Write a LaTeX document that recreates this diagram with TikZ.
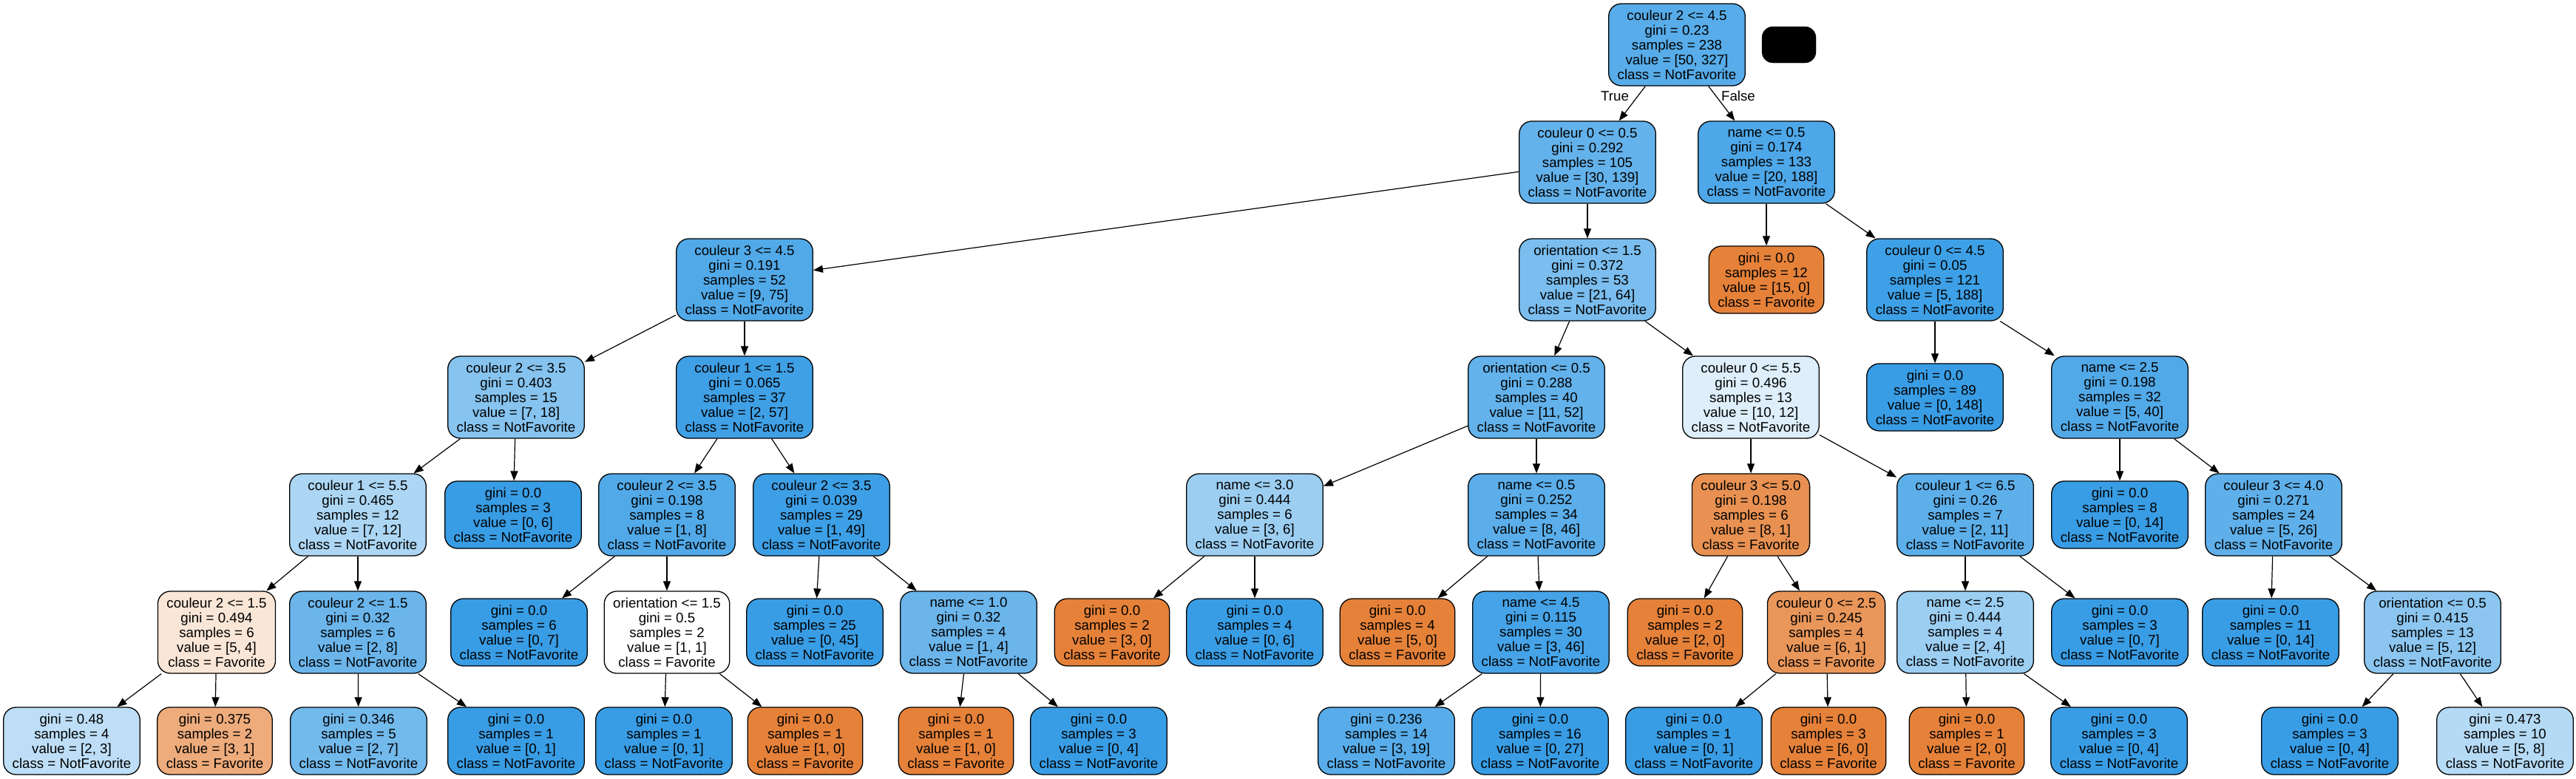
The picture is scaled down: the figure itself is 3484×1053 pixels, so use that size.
\documentclass[tikz,border=0pt]{standalone}
\usepackage{fontspec}
\setmainfont{Liberation Sans}
\usetikzlibrary{arrows.meta}
\definecolor{fav}{HTML}{E58139}
\definecolor{nf}{HTML}{399DE5}
\tikzset{
  tn/.style={draw=black, line width=1.3pt, rounded corners=17pt, align=center,
    inner xsep=12pt, inner ysep=0pt, font=\fontsize{18.7}{20}\selectfont},
  five/.style={tn, minimum height=111pt},
  four/.style={tn, minimum height=91pt},
  edge/.style={-{Triangle[length=13pt,width=10pt]}, line width=1.2pt, draw=black},
  elabel/.style={font=\fontsize{18.7}{20}\selectfont, inner sep=0pt}
}
\begin{document}
\begin{tikzpicture}[x=1pt,y=1pt]
\fill[white] (0,0) rectangle (3484,-1053);
\useasboundingbox (0,0) rectangle (3484,-1053);
% level 0
\node[five,fill=nf!84.7!white] (l0) at (2268,-60.5) {couleur 2 <= 4.5\\gini = 0.23\\samples = 238\\value = [50, 327]\\class = NotFavorite};
\node[draw=black, fill=black, rounded corners=15pt, minimum width=73pt, minimum height=49pt, inner sep=0pt] (legend) at (2419.5,-60.5) {};
% level 1
\node[five,fill=nf!78.4!white] (l1a) at (2147,-219.5) {couleur 0 <= 0.5\\gini = 0.292\\samples = 105\\value = [30, 139]\\class = NotFavorite};
\node[five,fill=nf!89.4!white] (l1b) at (2389,-219.5) {name <= 0.5\\gini = 0.174\\samples = 133\\value = [20, 188]\\class = NotFavorite};
% level 2
\node[five,fill=nf!88!white] (l2a) at (1007,-378.5) {couleur 3 <= 4.5\\gini = 0.191\\samples = 52\\value = [9, 75]\\class = NotFavorite};
\node[five,fill=nf!67.2!white] (l2b) at (2147,-378.5) {orientation <= 1.5\\gini = 0.372\\samples = 53\\value = [21, 64]\\class = NotFavorite};
\node[four,fill=fav] (l2c) at (2389,-378.5) {gini = 0.0\\samples = 12\\value = [15, 0]\\class = Favorite};
\node[five,fill=nf!97.3!white] (l2d) at (2617,-378.5) {couleur 0 <= 4.5\\gini = 0.05\\samples = 121\\value = [5, 188]\\class = NotFavorite};
% level 3
\node[five,fill=nf!61.1!white] (l3a) at (698,-537.5) {couleur 2 <= 3.5\\gini = 0.403\\samples = 15\\value = [7, 18]\\class = NotFavorite};
\node[five,fill=nf!96.5!white] (l3b) at (1007,-537.5) {couleur 1 <= 1.5\\gini = 0.065\\samples = 37\\value = [2, 57]\\class = NotFavorite};
\node[five,fill=nf!78.8!white] (l3c) at (2078,-537.5) {orientation <= 0.5\\gini = 0.288\\samples = 40\\value = [11, 52]\\class = NotFavorite};
\node[five,fill=nf!16.7!white] (l3d) at (2368,-537.5) {couleur 0 <= 5.5\\gini = 0.496\\samples = 13\\value = [10, 12]\\class = NotFavorite};
\node[four,fill=nf] (l3e) at (2617,-537.5) {gini = 0.0\\samples = 89\\value = [0, 148]\\class = NotFavorite};
\node[five,fill=nf!87.5!white] (l3f) at (2867,-537.5) {name <= 2.5\\gini = 0.198\\samples = 32\\value = [5, 40]\\class = NotFavorite};
% level 4
\node[five,fill=nf!41.7!white] (l4a) at (484,-696.5) {couleur 1 <= 5.5\\gini = 0.465\\samples = 12\\value = [7, 12]\\class = NotFavorite};
\node[four,fill=nf] (l4b) at (694,-696.5) {gini = 0.0\\samples = 3\\value = [0, 6]\\class = NotFavorite};
\node[five,fill=nf!87.5!white] (l4c) at (902,-696.5) {couleur 2 <= 3.5\\gini = 0.198\\samples = 8\\value = [1, 8]\\class = NotFavorite};
\node[five,fill=nf!98!white] (l4d) at (1111,-696.5) {couleur 2 <= 3.5\\gini = 0.039\\samples = 29\\value = [1, 49]\\class = NotFavorite};
\node[five,fill=nf!50!white] (l4e) at (1697,-696.5) {name <= 3.0\\gini = 0.444\\samples = 6\\value = [3, 6]\\class = NotFavorite};
\node[five,fill=nf!82.6!white] (l4f) at (2078,-696.5) {name <= 0.5\\gini = 0.252\\samples = 34\\value = [8, 46]\\class = NotFavorite};
\node[five,fill=fav!87.5!white] (l4g) at (2368,-696.5) {couleur 3 <= 5.0\\gini = 0.198\\samples = 6\\value = [8, 1]\\class = Favorite};
\node[five,fill=nf!81.8!white] (l4h) at (2658,-696.5) {couleur 1 <= 6.5\\gini = 0.26\\samples = 7\\value = [2, 11]\\class = NotFavorite};
\node[four,fill=nf] (l4i) at (2867,-696.5) {gini = 0.0\\samples = 8\\value = [0, 14]\\class = NotFavorite};
\node[five,fill=nf!80.8!white] (l4j) at (3075,-696.5) {couleur 3 <= 4.0\\gini = 0.271\\samples = 24\\value = [5, 26]\\class = NotFavorite};
% level 5
\node[five,fill=fav!20!white] (l5a) at (293,-855.5) {couleur 2 <= 1.5\\gini = 0.494\\samples = 6\\value = [5, 4]\\class = Favorite};
\node[five,fill=nf!75!white] (l5b) at (484,-855.5) {couleur 2 <= 1.5\\gini = 0.32\\samples = 6\\value = [2, 8]\\class = NotFavorite};
\node[four,fill=nf] (l5c) at (702,-855.5) {gini = 0.0\\samples = 6\\value = [0, 7]\\class = NotFavorite};
\node[five,fill=white] (l5d) at (902,-855.5) {orientation <= 1.5\\gini = 0.5\\samples = 2\\value = [1, 1]\\class = Favorite};
\node[four,fill=nf] (l5e) at (1102,-855.5) {gini = 0.0\\samples = 25\\value = [0, 45]\\class = NotFavorite};
\node[five,fill=nf!75!white] (l5f) at (1310,-855.5) {name <= 1.0\\gini = 0.32\\samples = 4\\value = [1, 4]\\class = NotFavorite};
\node[four,fill=fav] (l5g) at (1504,-855.5) {gini = 0.0\\samples = 2\\value = [3, 0]\\class = Favorite};
\node[four,fill=nf] (l5h) at (1697,-855.5) {gini = 0.0\\samples = 4\\value = [0, 6]\\class = NotFavorite};
\node[four,fill=fav] (l5i) at (1890,-855.5) {gini = 0.0\\samples = 4\\value = [5, 0]\\class = Favorite};
\node[five,fill=nf!93.5!white] (l5j) at (2084,-855.5) {name <= 4.5\\gini = 0.115\\samples = 30\\value = [3, 46]\\class = NotFavorite};
\node[four,fill=fav] (l5k) at (2279,-855.5) {gini = 0.0\\samples = 2\\value = [2, 0]\\class = Favorite};
\node[five,fill=fav!83.3!white] (l5l) at (2470,-855.5) {couleur 0 <= 2.5\\gini = 0.245\\samples = 4\\value = [6, 1]\\class = Favorite};
\node[five,fill=nf!50!white] (l5m) at (2658,-855.5) {name <= 2.5\\gini = 0.444\\samples = 4\\value = [2, 4]\\class = NotFavorite};
\node[four,fill=nf] (l5n) at (2867,-855.5) {gini = 0.0\\samples = 3\\value = [0, 7]\\class = NotFavorite};
\node[four,fill=nf] (l5o) at (3071,-855.5) {gini = 0.0\\samples = 11\\value = [0, 14]\\class = NotFavorite};
\node[five,fill=nf!58.3!white] (l5p) at (3290,-855.5) {orientation <= 0.5\\gini = 0.415\\samples = 13\\value = [5, 12]\\class = NotFavorite};
% level 6
\node[four,fill=nf!33.3!white] (l6a) at (97,-1002.5) {gini = 0.48\\samples = 4\\value = [2, 3]\\class = NotFavorite};
\node[four,fill=fav!66.7!white] (l6b) at (290.5,-1002.5) {gini = 0.375\\samples = 2\\value = [3, 1]\\class = Favorite};
\node[four,fill=nf!71.4!white] (l6c) at (485,-1002.5) {gini = 0.346\\samples = 5\\value = [2, 7]\\class = NotFavorite};
\node[four,fill=nf] (l6d) at (698,-1002.5) {gini = 0.0\\samples = 1\\value = [0, 1]\\class = NotFavorite};
\node[four,fill=nf] (l6e) at (898,-1002.5) {gini = 0.0\\samples = 1\\value = [0, 1]\\class = NotFavorite};
\node[four,fill=fav] (l6f) at (1089,-1002.5) {gini = 0.0\\samples = 1\\value = [1, 0]\\class = Favorite};
\node[four,fill=fav] (l6g) at (1293,-1002.5) {gini = 0.0\\samples = 1\\value = [1, 0]\\class = Favorite};
\node[four,fill=nf] (l6h) at (1486,-1002.5) {gini = 0.0\\samples = 3\\value = [0, 4]\\class = NotFavorite};
\node[four,fill=nf!84.2!white] (l6i) at (1875,-1002.5) {gini = 0.236\\samples = 14\\value = [3, 19]\\class = NotFavorite};
\node[four,fill=nf] (l6j) at (2083,-1002.5) {gini = 0.0\\samples = 16\\value = [0, 27]\\class = NotFavorite};
\node[four,fill=nf] (l6k) at (2291,-1002.5) {gini = 0.0\\samples = 1\\value = [0, 1]\\class = NotFavorite};
\node[four,fill=fav] (l6l) at (2473,-1002.5) {gini = 0.0\\samples = 3\\value = [6, 0]\\class = Favorite};
\node[four,fill=fav] (l6m) at (2660,-1002.5) {gini = 0.0\\samples = 1\\value = [2, 0]\\class = Favorite};
\node[four,fill=nf] (l6n) at (2866,-1002.5) {gini = 0.0\\samples = 3\\value = [0, 4]\\class = NotFavorite};
\node[four,fill=nf] (l6o) at (3151,-1002.5) {gini = 0.0\\samples = 3\\value = [0, 4]\\class = NotFavorite};
\node[four,fill=nf!37.5!white] (l6p) at (3388,-1002.5) {gini = 0.473\\samples = 10\\value = [5, 8]\\class = NotFavorite};
% edge labels
\node[elabel] (tlabel) at (2184,-130) {True};
\node[elabel] (flabel) at (2351,-130) {False};
% edges
\draw[edge] (l0) -- (l1a);
\draw[edge] (l0) -- (l1b);
\draw[edge] (l1a) -- (l2a);
\draw[edge] (l1a) -- (l2b);
\draw[edge] (l1b) -- (l2c);
\draw[edge] (l1b) -- (l2d);
\draw[edge] (l2a) -- (l3a);
\draw[edge] (l2a) -- (l3b);
\draw[edge] (l2b) -- (l3c);
\draw[edge] (l2b) -- (l3d);
\draw[edge] (l2d) -- (l3e);
\draw[edge] (l2d) -- (l3f);
\draw[edge] (l3a) -- (l4a);
\draw[edge] (l3a) -- (l4b);
\draw[edge] (l3b) -- (l4c);
\draw[edge] (l3b) -- (l4d);
\draw[edge] (l3c) -- (l4e);
\draw[edge] (l3c) -- (l4f);
\draw[edge] (l3d) -- (l4g);
\draw[edge] (l3d) -- (l4h);
\draw[edge] (l3f) -- (l4i);
\draw[edge] (l3f) -- (l4j);
\draw[edge] (l4a) -- (l5a);
\draw[edge] (l4a) -- (l5b);
\draw[edge] (l4c) -- (l5c);
\draw[edge] (l4c) -- (l5d);
\draw[edge] (l4d) -- (l5e);
\draw[edge] (l4d) -- (l5f);
\draw[edge] (l4e) -- (l5g);
\draw[edge] (l4e) -- (l5h);
\draw[edge] (l4f) -- (l5i);
\draw[edge] (l4f) -- (l5j);
\draw[edge] (l4g) -- (l5k);
\draw[edge] (l4g) -- (l5l);
\draw[edge] (l4h) -- (l5m);
\draw[edge] (l4h) -- (l5n);
\draw[edge] (l4j) -- (l5o);
\draw[edge] (l4j) -- (l5p);
\draw[edge] (l5a) -- (l6a);
\draw[edge] (l5a) -- (l6b);
\draw[edge] (l5b) -- (l6c);
\draw[edge] (l5b) -- (l6d);
\draw[edge] (l5d) -- (l6e);
\draw[edge] (l5d) -- (l6f);
\draw[edge] (l5f) -- (l6g);
\draw[edge] (l5f) -- (l6h);
\draw[edge] (l5j) -- (l6i);
\draw[edge] (l5j) -- (l6j);
\draw[edge] (l5l) -- (l6k);
\draw[edge] (l5l) -- (l6l);
\draw[edge] (l5m) -- (l6m);
\draw[edge] (l5m) -- (l6n);
\draw[edge] (l5p) -- (l6o);
\draw[edge] (l5p) -- (l6p);
\end{tikzpicture}
\end{document}
